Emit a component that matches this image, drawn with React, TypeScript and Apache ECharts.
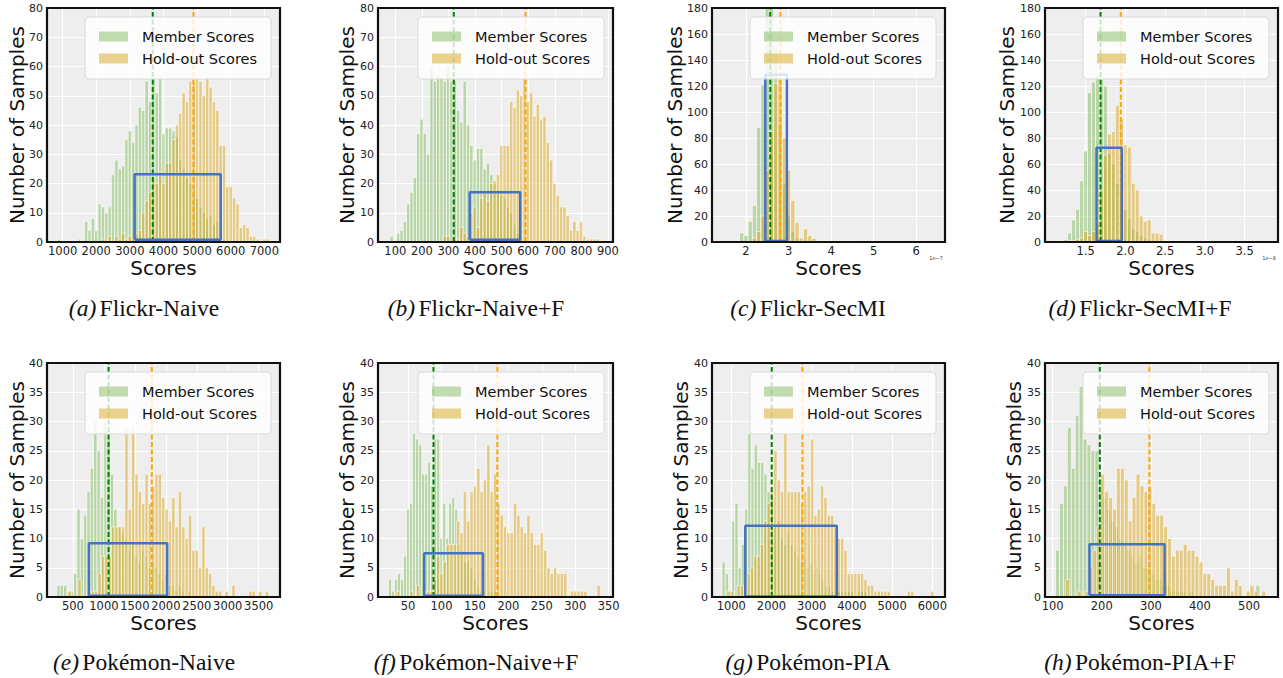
import React, { useEffect, useRef } from 'react';
import * as echarts from 'echarts';

// ---------- shared text ----------
const legendNames = ['Member Scores', 'Hold-out Scores'];
const captionLetters = ['(a)', '(b)', '(c)', '(d)', '(e)', '(f)', '(g)', '(h)'];
const captionTitles = [
  'Flickr-Naive', 'Flickr-Naive+F', 'Flickr-SecMI', 'Flickr-SecMI+F',
  'Pokémon-Naive', 'Pokémon-Naive+F', 'Pokémon-PIA', 'Pokémon-PIA+F',
];
const offsetTexts = ['', '', '1e\u22127', '1e\u22128', '', '', '', ''];

// ---------- (a) Flickr-Naive ----------
const aMemberBins = [850, 100];
const aMember = [1,0,0,0,0,0,1,0,7,4,8,4,13,12,10,12,23,28,25,26,35,38,34,40,46,45,55,48,56,51,56,37,39,39,38,36,28,25,22,20,18,15,12,10,8,9,6,7,3,1];
const aHoldoutBins = [2150, 100];
const aHoldout = [1,0,2,0,2,1,3,1,2,1,3,4,10,14,17,22,20,24,20,27,27,35,40,44,51,48,55,55,56,55,50,56,53,48,45,33,33,19,19,15,13,5,6,5,2,2,1,0,1,1];
const aMeans = [3680, 4890];
const aBox = [3140, 5700, 0.8, 23.2];
const aXTicks = [1000, 2000, 3000, 4000, 5000, 6000, 7000];
const aXRange = [535, 7465];
const aY = [80, 10];

// ---------- (b) Flickr-Naive+F ----------
const bMemberBins = [80, 12.5];
const bMember = [2,0,3,4,7,13,17,22,37,42,37,30,60,55,57,56,55,60,55,55,45,41,55,40,33,28,32,32,25,27,23,20,17,16,15,12,10,6,3,1];
const bHoldoutBins = [280, 12.5];
const bHoldout = [2,2,0,1,1,5,3,2,10,12,5,15,17,14,20,21,23,33,33,33,48,46,52,50,56,48,51,43,47,42,43,34,28,20,16,12,12,9,4,7,4,7,2,1,1,1,1];
const bMeans = [320, 590];
const bBox = [380, 570, 0.8, 17];
const bXTicks = [100, 200, 300, 400, 500, 600, 700, 800, 900];
const bXRange = [35, 919];
const bY = [80, 10];

// ---------- (c) Flickr-SecMI (x in 1e-7) ----------
const cMemberBins = [1.85, 0.1];
const cMember = [7,5,16,28,88,121,180,190,150,90,45,20,8,3,1];
const cHoldoutBins = [2.15, 0.1];
const cHoldout = [3,8,20,55,85,122,125,80,55,32,15,3,10,5,3,1,1,1,0,0,0,0,1];
const cMeans = [2.57, 2.81];
const cBox = [2.454, 2.963, 0.8, 128.6];
const cXTicks = [2, 3, 4, 5, 6];
const cXRange = [1.2, 6.68];
const cY = [180, 20];

// ---------- (d) Flickr-SecMI+F (x in 1e-8) ----------
const dMemberBins = [1.175, 0.05];
const dMember = [1,2,7,17,25,47,70,115,123,128,125,120,68,60,45,35,25,18,10,8,5,3,2,1,1];
const dHoldoutBins = [1.275, 0.05];
const dHoldout = [1,1,2,3,8,5,8,15,40,67,83,85,105,95,75,73,45,40,20,16,17,7,7,6,1,1,0,1,1,1,1];
const dMeans = [1.688, 1.943];
const dBox = [1.638, 1.956, 0.8, 72.5];
const dXTicks = [1.5, 2.0, 2.5, 3.0, 3.5];
const dXRange = [0.99, 3.92];
const dY = [180, 20];

// ---------- (e) Pokémon-Naive ----------
const eMemberBins = [240, 54];
const eMember = [2,2,2,1,1,4,15,10,14,18,22,30,25,17,30,27,21,15,12,11,10,8,9,7,6,8,7,5,6,5,4,3,4,2,2,1,2,1,0,1];
const eHoldoutBins = [420, 54];
const eHoldout = [1,0,0,3,0,0,0,1,1,4,7,7,7,12,12,12,12,29,15,29,21,18,16,21,16,19,21,21,17,15,13,17,12,18,12,10,14,8,8,5,12,5,4,2,1,1,0,1,0,2,0,0,0,0,1,1,0,1,0,1];
const eMeans = [1075, 1774];
const eBox = [758, 2022, 0.2, 9.2];
const eXTicks = [500, 1000, 1500, 2000, 2500, 3000, 3500];
const eXRange = [81, 3844];
const eY = [40, 5];

// ---------- (f) Pokémon-Naive+F ----------
const fMemberBins = [20.75, 4.5];
const fMember = [3,1,3,4,3,7,15,16,28,27,26,21,21,23,19,27,27,10,16,10,16,17,15,9,8,6,6,5,3,2,1,1,0,1,1,1];
const fHoldoutBins = [32.5, 5];
const fHoldout = [1,0,0,0,1,0,2,0,0,1,1,3,7,4,6,9,9,9,13,11,18,13,18,19,22,18,20,26,18,21,16,14,12,11,11,16,14,12,11,14,11,9,9,11,8,5,4,5,4,4,4,0,1,1,1,1,1,0,0,0,2];
const fMeans = [88, 183.5];
const fBox = [74, 162, 0.2, 7.5];
const fXTicks = [50, 100, 150, 200, 250, 300, 350];
const fXRange = [5, 356.5];
const fY = [40, 5];

// ---------- (g) Pokémon-PIA ----------
const gMemberBins = [770, 80];
const gMember = [6,4,1,13,16,5,9,15,28,22,26,23,23,21,18,17,12,13,10,9,11,9,8,7,6,7,5,6,4,5,4,3,2,2,1,1,1,1,1,1,1,0,1,1,1];
const gHoldoutBins = [892.5, 83];
const gHoldout = [1,1,0,2,2,2,4,5,7,7,9,13,16,18,25,20,18,28,18,18,18,18,16,18,19,27,14,15,19,17,14,14,12,10,10,8,4,4,4,4,4,3,2,2,1,1,1,1,1,0,0,0,0,0,1,1,0,0,0,0,0,1];
const gMeans = [2005, 2771];
const gBox = [1348, 3624, 0.1, 12.2];
const gXTicks = [1000, 2000, 3000, 4000, 5000, 6000];
const gXRange = [520, 6315];
const gY = [40, 5];

// ---------- (h) Pokémon-PIA+F ----------
const hMemberBins = [106, 8];
const hMember = [8,16,19,29,22,31,36,27,26,25,25,20,17,15,13,12,10,9,8,7,6,7,5,5,4,3,3,2,2,1,1,1,1,0,1,0,0,0,0,0,0,0,0,0,0,0,0,0,0,0,0,2];
const hHoldoutBins = [126, 8];
const hHoldout = [3,0,0,1,0,1,5,8,12,21,18,17,15,22,22,20,13,17,21,19,18,19,16,14,14,12,10,7,8,8,9,8,8,7,6,4,4,3,2,2,2,5,1,3,2,0,1,2,1,0,1];
const hMeans = [196, 297];
const hBox = [175, 328, 0.3, 9];
const hXTicks = [100, 200, 300, 400, 500];
const hXRange = [84.4, 559];
const hY = [40, 5];

const panels = [
  { mb: aMemberBins, m: aMember, hb: aHoldoutBins, h: aHoldout, means: aMeans, box: aBox, ticks: aXTicks, xr: aXRange, y: aY, dec: 0 },
  { mb: bMemberBins, m: bMember, hb: bHoldoutBins, h: bHoldout, means: bMeans, box: bBox, ticks: bXTicks, xr: bXRange, y: bY, dec: 0 },
  { mb: cMemberBins, m: cMember, hb: cHoldoutBins, h: cHoldout, means: cMeans, box: cBox, ticks: cXTicks, xr: cXRange, y: cY, dec: 0 },
  { mb: dMemberBins, m: dMember, hb: dHoldoutBins, h: dHoldout, means: dMeans, box: dBox, ticks: dXTicks, xr: dXRange, y: dY, dec: 1 },
  { mb: eMemberBins, m: eMember, hb: eHoldoutBins, h: eHoldout, means: eMeans, box: eBox, ticks: eXTicks, xr: eXRange, y: eY, dec: 0 },
  { mb: fMemberBins, m: fMember, hb: fHoldoutBins, h: fHoldout, means: fMeans, box: fBox, ticks: fXTicks, xr: fXRange, y: fY, dec: 0 },
  { mb: gMemberBins, m: gMember, hb: gHoldoutBins, h: gHoldout, means: gMeans, box: gBox, ticks: gXTicks, xr: gXRange, y: gY, dec: 0 },
  { mb: hMemberBins, m: hMember, hb: hHoldoutBins, h: hHoldout, means: hMeans, box: hBox, ticks: hXTicks, xr: hXRange, y: hY, dec: 0 },
];

// ---------- layout & style ----------
const gridLefts = [47, 378, 712, 1045];
const gridWidths = [233, 235, 233, 233];
const gridTops = [8, 363];
const gridHeight = 234;
const yTitleOffsets = [30, 31, 37, 38, 30, 31, 31, 31];
const captionCenters = [144, 476, 808, 1140, 144, 476, 808, 1140];
const captionYs = [308, 662];

const MEMBER_COLOR = 'rgba(120, 180, 80, 0.45)';
const HOLDOUT_COLOR = 'rgba(218, 165, 32, 0.5)';
const GREEN_LINE = '#008000';
const ORANGE_LINE = '#ffa500';
const BOX_COLOR = '#4472c4';
const SANS = "'DejaVu Sans', sans-serif";
const SERIF = "'Liberation Serif', serif";

function binsToData(bins: number[], counts: number[]) {
  const [start, w] = bins;
  return counts.map((c, i) => [start + i * w, start + (i + 1) * w, c]);
}

function renderBar(params: any, api: any) {
  const x0 = api.value(0);
  const x1 = api.value(1);
  const y = api.value(2);
  if (!y) return null;
  const p0 = api.coord([x0, y]);
  const p1 = api.coord([x1, 0]);
  return {
    type: 'rect',
    shape: { x: p0[0], y: p0[1], width: p1[0] - p0[0], height: p1[1] - p0[1] },
    style: { fill: api.visual('color'), stroke: 'rgba(255,255,255,0.75)', lineWidth: 0.8 },
  };
}

function buildOption() {
  const grid: any[] = [];
  const xAxis: any[] = [];
  const yAxis: any[] = [];
  const series: any[] = [];
  const legend: any[] = [];
  const graphic: any[] = [];

  panels.forEach((p, i) => {
    const col = i % 4;
    const row = Math.floor(i / 4);
    const left = gridLefts[col];
    const width = gridWidths[col];
    const top = gridTops[row];
    grid.push({ left, top, width, height: gridHeight, show: true, backgroundColor: '#eeeeee', borderWidth: 0 });
    xAxis.push({
      gridIndex: i, type: 'value', min: p.xr[0], max: p.xr[1],
      axisLine: { show: false },
      axisTick: { show: false, customValues: p.ticks },
      axisLabel: {
        customValues: p.ticks, fontSize: 11.5, color: '#222', margin: 3, fontFamily: SANS,
        formatter: (v: number) => v.toFixed(p.dec),
      },
      splitLine: { show: true, lineStyle: { color: '#ffffff', width: 1.2 } },
    });
    yAxis.push({
      gridIndex: i, type: 'value', min: 0, max: p.y[0], interval: p.y[1],
      axisLine: { show: false }, axisTick: { show: false },
      axisLabel: { fontSize: 11, color: '#222', margin: 4, fontFamily: SANS },
      splitLine: { show: true, lineStyle: { color: '#ffffff', width: 1.2 } },
    });
    series.push({
      type: 'custom', name: legendNames[0], xAxisIndex: i, yAxisIndex: i, z: 2,
      itemStyle: { color: MEMBER_COLOR }, renderItem: renderBar, clip: true,
      encode: { x: [0, 1], y: 2 }, data: binsToData(p.mb, p.m), silent: true,
    });
    series.push({
      type: 'custom', name: legendNames[1], xAxisIndex: i, yAxisIndex: i, z: 2,
      itemStyle: { color: HOLDOUT_COLOR }, renderItem: renderBar, clip: true,
      encode: { x: [0, 1], y: 2 }, data: binsToData(p.hb, p.h), silent: true,
    });
    series.push({
      type: 'line', xAxisIndex: i, yAxisIndex: i, z: 3, symbol: 'none', silent: true,
      lineStyle: { color: GREEN_LINE, width: 2, type: [5, 2.5] },
      data: [[p.means[0], 0], [p.means[0], p.y[0]]],
    });
    series.push({
      type: 'line', xAxisIndex: i, yAxisIndex: i, z: 3, symbol: 'none', silent: true,
      lineStyle: { color: ORANGE_LINE, width: 2, type: [5, 2.5] },
      data: [[p.means[1], 0], [p.means[1], p.y[0]]],
    });
    const [bx0, bx1, by0, by1] = p.box;
    series.push({
      type: 'line', xAxisIndex: i, yAxisIndex: i, z: 4, symbol: 'none', silent: true,
      lineStyle: { color: BOX_COLOR, width: 2.5 },
      data: [[bx0, by0], [bx1, by0], [bx1, by1], [bx0, by1], [bx0, by0]],
    });
    legend.push({
      orient: 'vertical', left: left + width - 195, top: top + 9, z: 10,
      data: legendNames, icon: 'rect', selectedMode: false,
      itemWidth: 29, itemHeight: 10, itemGap: 7,
      padding: [12, 14, 13, 14],
      backgroundColor: 'rgba(255,255,255,0.8)', borderColor: 'rgba(215,215,215,0.9)', borderWidth: 1, borderRadius: 4,
      textStyle: { fontSize: 14.5, fontFamily: SANS, color: '#111', padding: [0, 0, 0, 9] },
    });
    graphic.push({
      type: 'rect', silent: true, z: 100,
      shape: { x: left, y: top, width, height: gridHeight },
      style: { fill: 'none', stroke: '#111', lineWidth: 2.2 },
    });
    graphic.push({
      type: 'text', silent: true, z: 100, x: left + width / 2, y: top + gridHeight + 26,
      style: { text: 'Scores', fontFamily: SANS, fontSize: 20, fill: '#111', align: 'center', verticalAlign: 'middle' },
    });
    graphic.push({
      type: 'text', silent: true, z: 100, x: left - yTitleOffsets[i], y: top + gridHeight / 2, rotation: Math.PI / 2,
      style: { text: 'Number of Samples', fontFamily: SANS, fontSize: 20, fill: '#111', align: 'center', verticalAlign: 'middle' },
    });
    if (offsetTexts[i]) {
      graphic.push({
        type: 'text', silent: true, z: 100, x: left + width - 2, y: top + gridHeight + 16,
        style: { text: offsetTexts[i], fontFamily: SANS, fontSize: 5, fill: '#333', align: 'right', verticalAlign: 'middle' },
      });
    }
    graphic.push({
      type: 'text', silent: true, z: 100, x: captionCenters[i], y: captionYs[row],
      style: {
        text: `{i|${captionLetters[i]}} {r|${captionTitles[i]}}`,
        align: 'center', verticalAlign: 'middle',
        rich: {
          i: { fontFamily: SERIF, fontStyle: 'italic', fontSize: 23.5, fill: '#111' },
          r: { fontFamily: SERIF, fontSize: 23.5, fill: '#111' },
        },
      },
    });
  });

  return { animation: false, backgroundColor: '#ffffff', grid, xAxis, yAxis, series, legend, graphic };
}

export default function App() {
  const ref = useRef<HTMLDivElement>(null);
  useEffect(() => {
    if (!ref.current) return;
    const chart = echarts.init(ref.current, undefined, { renderer: 'svg' });
    chart.setOption(buildOption() as any);
    return () => chart.dispose();
  }, []);
  return (
    <div
      ref={ref}
      style={{ position: 'fixed', left: 0, top: 0, width: 1283, height: 678, background: '#fff' }}
    />
  );
}
